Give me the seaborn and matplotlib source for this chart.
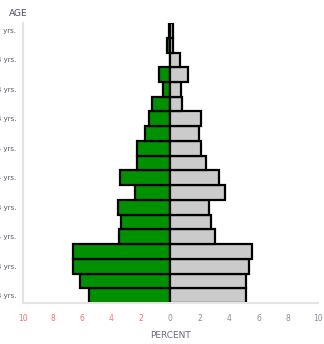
import numpy as np
import seaborn as sns
import matplotlib.pyplot as plt

# age groups from bottom (youngest) to top (oldest)
age_groups = ['0-4 yrs.', '5-9 yrs.', '10-14 yrs.', '15-19 yrs.', '20-24 yrs.',
              '25-29 yrs.', '30-34 yrs.', '35-39 yrs.', '40-44 yrs.', '45-49 yrs.',
              '50-54 yrs.', '55-59 yrs.', '60-64 yrs.', '65-69 yrs.', '70-74 yrs.',
              '75-79 yrs.', '80-84 yrs.', '85-89 yrs.', '90+ yrs.']
# percent of population, left side (drawn as negative) and right side
left_pct = [5.5, 6.1, 6.6, 6.6, 3.5, 3.35, 3.55, 2.4, 3.4, 2.25,
            2.3, 1.75, 1.45, 1.25, 0.5, 0.8, 0.0, 0.2, 0.1]
right_pct = [5.15, 5.15, 5.3, 5.5, 3.0, 2.75, 2.6, 3.7, 3.3, 2.4,
             2.1, 1.95, 2.1, 0.8, 0.75, 1.2, 0.65, 0.15, 0.15]
x_ticks = [-10, -8, -6, -4, -2, 0, 2, 4, 6, 8, 10]

sns.set_style('white')
plt.rcParams['font.family'] = ['DejaVu Sans']

fig = plt.figure(figsize=(3.24, 3.44), dpi=100)
ax = fig.add_axes([0.071, 0.119, 0.91, 0.814])

pos = np.arange(len(age_groups))
sns.barplot(x=[-v for v in left_pct], y=pos, orient='h', native_scale=True,
            width=1, color='#009000', saturation=1, edgecolor='black',
            linewidth=1.6, ax=ax)
sns.barplot(x=right_pct, y=pos, orient='h', native_scale=True,
            width=1, color='#cbcbcb', saturation=1, edgecolor='black',
            linewidth=1.6, ax=ax)

ax.set_xlim(-10, 10)
ax.set_ylim(-0.5, len(age_groups) - 0.5)

# x ticks shown as absolute values, left side in red
ax.set_xticks(x_ticks)
ax.set_xticklabels([str(abs(t)) for t in x_ticks], fontsize=5.5)
for t, lab in zip(x_ticks, ax.get_xticklabels()):
    lab.set_color('#ff6f6f' if t < 0 else '#8a8aa0')

# y ticks at bar boundaries, labels on every other bar
ax.set_yticks(np.arange(-0.5, len(age_groups), 1.0))
ax.set_yticklabels([])
ax.set_yticks(pos[::2], minor=True)
ax.set_yticklabels(age_groups[::2], minor=True, fontsize=5, color='#555566')
ax.tick_params(axis='y', which='minor', length=0, pad=5)
ax.tick_params(axis='both', which='major', length=2, direction='inout',
               color='#d8d8d8', pad=7)

for side in ['top', 'right']:
    ax.spines[side].set_visible(False)
for side in ['left', 'bottom']:
    ax.spines[side].set_color('#e4e4e4')
    ax.spines[side].set_linewidth(1.5)

ax.set_xlabel('')
ax.set_ylabel('')
fig.text(0.055, 0.962, 'AGE', fontsize=6.5, color='#4a4a6a', ha='center', va='center')
fig.text(0.525, 0.026, 'PERCENT', fontsize=6.5, color='#6a6a8a', ha='center', va='center')

fig.savefig('out.png', dpi=100)
